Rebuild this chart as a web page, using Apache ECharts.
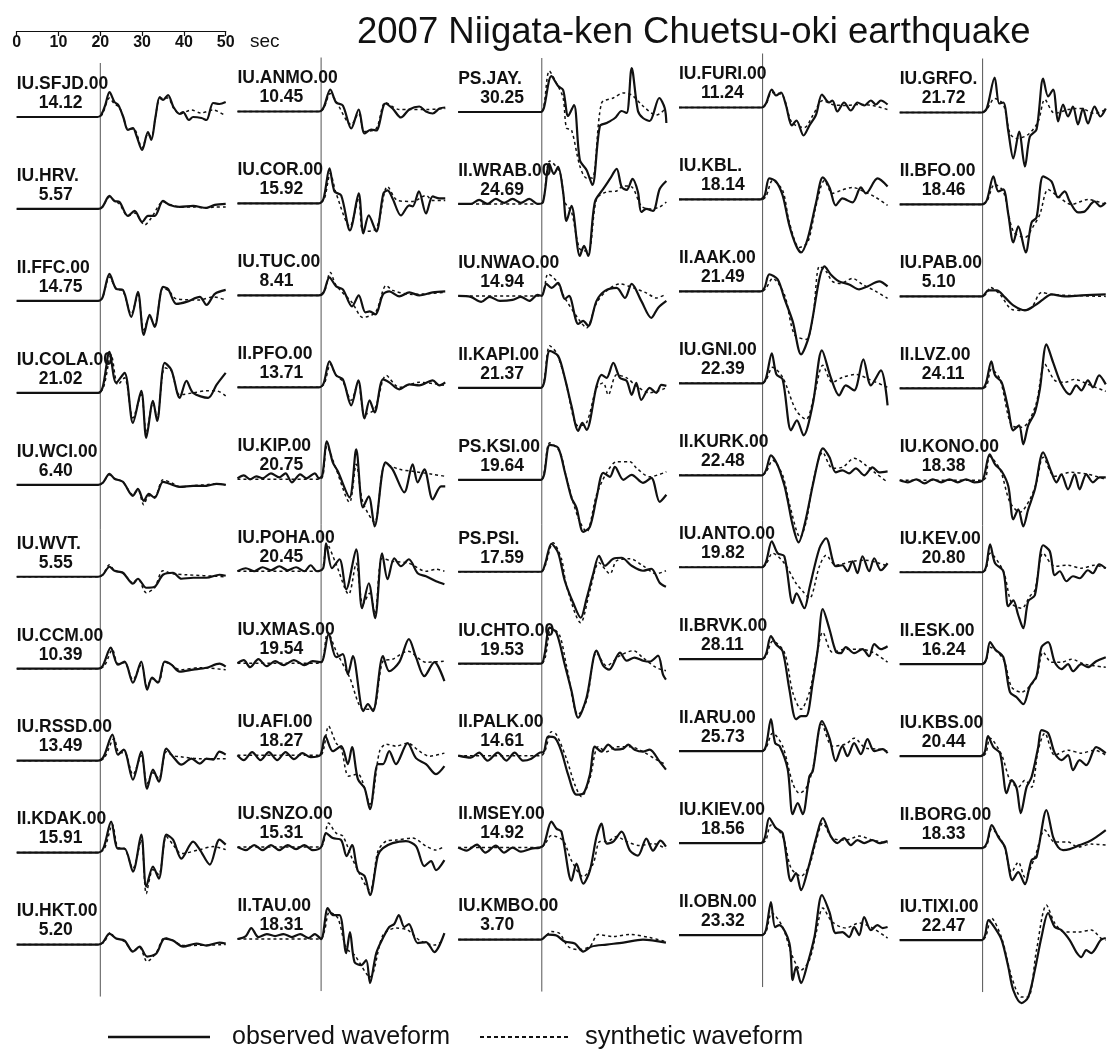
<!DOCTYPE html>
<html>
<head>
<meta charset="utf-8">
<script src="https://cdn.jsdelivr.net/npm/echarts@6/dist/echarts.min.js"></script>
<style>
  html, body { margin: 0; padding: 0; background: #fff; }
  #chart { width: 1107px; height: 1053px; }
</style>
</head>
<body>
<div id="chart"></div>
<script>
// Station codes, column by column (10 stations per column, top to bottom)
const stations = [
  'IU.SFJD.00', 'IU.HRV.', 'II.FFC.00', 'IU.COLA.00', 'IU.WCI.00', 'IU.WVT.', 'IU.CCM.00', 'IU.RSSD.00', 'II.KDAK.00', 'IU.HKT.00',
  'IU.ANMO.00', 'IU.COR.00', 'IU.TUC.00', 'II.PFO.00', 'IU.KIP.00', 'IU.POHA.00', 'IU.XMAS.00', 'IU.AFI.00', 'IU.SNZO.00', 'II.TAU.00',
  'PS.JAY.', 'II.WRAB.00', 'IU.NWAO.00', 'II.KAPI.00', 'PS.KSI.00', 'PS.PSI.', 'IU.CHTO.00', 'II.PALK.00', 'II.MSEY.00', 'IU.KMBO.00',
  'IU.FURI.00', 'IU.KBL.', 'II.AAK.00', 'IU.GNI.00', 'II.KURK.00', 'IU.ANTO.00', 'II.BRVK.00', 'II.ARU.00', 'IU.KIEV.00', 'II.OBN.00',
  'IU.GRFO.', 'II.BFO.00', 'IU.PAB.00', 'II.LVZ.00', 'IU.KONO.00', 'IU.KEV.00', 'II.ESK.00', 'IU.KBS.00', 'II.BORG.00', 'IU.TIXI.00'
];

// Peak amplitude printed under each station code
const amplitudes = [
  '14.12', '5.57', '14.75', '21.02', '6.40', '5.55', '10.39', '13.49', '15.91', '5.20',
  '10.45', '15.92', '8.41', '13.71', '20.75', '20.45', '19.54', '18.27', '15.31', '18.31',
  '30.25', '24.69', '14.94', '21.37', '19.64', '17.59', '19.53', '14.61', '14.92', '3.70',
  '11.24', '18.14', '21.49', '22.39', '22.48', '19.82', '28.11', '25.73', '18.56', '23.32',
  '21.72', '18.46', '5.10', '24.11', '18.38', '20.80', '16.24', '20.44', '18.33', '22.47'
];

// Observed traces: flat lists of (time [s], normalized amplitude) pairs
const observed = [
  [0,0, 19.3,0, 20.2,2, 21.2,12, 22.2,25, 23.4,15, 24.3,12, 25.5,0, 26.6,-13, 27.8,-11, 28.6,-18, 30,-33, 31.4,-15, 32.2,-23, 33.2,0, 34.2,20, 35,17, 36.2,22, 37.5,10, 39,3, 39.8,5, 41.2,-3, 42.2,0, 44.2,-1, 45.4,-3, 47,14, 48.5,13, 50,15],
  [0,0, 19.5,0, 20.5,2, 22.2,13, 23.4,8, 24.6,7, 26.6,-7, 28.2,-2, 30,-13, 31.4,-7, 33,-7, 35,8, 36.6,4, 39,2, 42.2,3, 45.4,1, 47.4,4, 50,5],
  [0,0, 19.5,0, 20.5,3, 22.2,27, 23.8,12, 25.4,11, 27.4,-16, 29,9, 30.4,-34, 31.8,-14, 33,-26, 35,14, 36.2,12, 38.2,-3, 40.6,-1, 43.8,4, 45.4,-4, 47.4,7, 50,11],
  [0,0, 19.5,0, 20.6,6, 22.2,41, 23.8,10, 25.8,20, 27.8,-30, 29.8,2, 31,-45, 32.6,-8, 33.6,-28, 35.4,30, 37,23, 39,-5, 40.6,12, 42.2,0, 45.8,-5, 47.8,8, 50,20],
  [0,0, 19.5,0, 20.6,2, 22.2,11, 23.4,6, 25.4,3, 27.8,-11, 29,-4, 30.4,-16, 31.6,-9, 33,-13, 35,3, 36.6,1, 39,-2, 42.2,-1, 45.4,-1, 47.8,1, 50,0],
  [0,0, 19.5,0, 20.6,2, 22.2,10, 23.4,6, 25.4,4, 27.8,-7, 29,-2, 31,-11, 33,-10, 35,2, 37.4,4, 39.4,-2, 42.2,-1, 45.4,-1, 48.5,2, 50,1],
  [0,0, 19.5,0, 20.6,3, 22.5,21, 24.2,4, 25.8,7, 27.8,-14, 29.8,7, 31.2,-21, 32.4,-9, 33.8,-14, 35.4,7, 37,4, 39,-3, 42.2,-1, 45.4,1, 48.5,5, 50,2],
  [0,0, 19.5,0, 20.8,4, 22.9,26, 24.2,6, 25.6,11, 27.8,-19, 29.8,9, 31.2,-28, 32.6,-9, 34,-21, 35.8,12, 37.4,4, 39.4,-4, 41.8,2, 43.8,-3, 45.4,2, 47,1, 48.5,9, 50,6],
  [0,0, 19.5,0, 20.8,5, 22.6,31, 24.2,4, 25.8,4, 27.8,-19, 29.8,18, 31,-34, 32.6,-14, 34,-26, 35.8,18, 37.4,13, 39.4,-6, 42.2,11, 43.8,3, 46.2,-12, 48.5,13, 50,8],
  [0,0, 19.5,0, 20.6,2, 22.2,11, 23.8,6, 25.8,4, 27.8,-7, 29.4,-2, 31.2,-12, 33.4,-9, 35.4,6, 37.4,4, 39.8,-2, 43,1, 45.4,-1, 48.5,2, 50,1],

  [0,0, 19.5,0, 20.6,4, 22.2,22, 23.6,9, 25.2,6, 27.2,-17, 29,2, 30.4,-22, 32,-18, 33.2,-19, 35.4,8, 37.1,3, 39.1,-6, 41.1,2, 43.5,5, 45.1,0, 46.7,-2, 48.3,3, 49.7,4],
  [0,0, 19.5,0, 20.6,5, 22,35, 23.2,12, 24.8,8, 26.9,-27, 29,10, 30.1,-30, 31.4,-12, 33.2,-28, 34.9,10, 35.9,13, 37.1,5, 39.1,-12, 41.1,-2, 41.9,-3, 43.4,12, 45.1,-10, 46.7,7, 48.3,5, 49.7,5],
  [0,0, 19.5,0, 20.6,3, 22,18, 23.6,9, 25.2,6, 27.4,-11, 29,0, 30.6,-17, 31.6,-16, 33,-19, 34.8,1, 36.3,4, 38.7,-1, 41.1,3, 43.5,0, 46.7,3, 49.7,4],
  [0,0, 19.5,0, 20.6,4, 22,26, 23.6,12, 25.2,8, 27.2,-18, 28.9,7, 30.4,-31, 31.6,-13, 32.8,-25, 34.8,8, 36.3,5, 38.7,-2, 41.1,3, 43.5,2, 46.7,7, 48.3,2, 49.7,5],
  [0,1, 1.5,4, 3,0, 4.5,3, 6,1, 8,6, 10,2, 11.5,6, 13,-3, 15,5, 16.5,1, 18.5,6, 19.5,1, 20.3,4, 21.4,38, 22.8,17, 24,8, 26.8,-18, 28.4,30, 30,-28, 31.4,-17, 32.8,-47, 35.4,17, 37.1,10, 39.9,-13, 41.9,15, 43.1,-3, 44.7,10, 46.7,-20, 48.7,-7, 49.7,-7],
  [0,0, 2,3, 4,0, 6,4, 8,1, 10,5, 12,1, 14,4, 16,0, 17.5,6, 19,0, 20.5,3, 21.2,28, 22.6,3, 24.4,12, 26,-18, 28.4,22, 29.8,-37, 31.4,-12, 32.9,-47, 34.6,18, 35.9,-8, 37.5,13, 39.1,5, 41,12, 43.1,-2, 45.1,-5, 47.5,-10, 49.5,-13],
  [0,0, 1.5,3, 3,-4, 5,4, 7,-3, 9,2, 11,-2, 13.5,3, 16,-2, 18,2, 20,1, 21.8,29, 23.6,6, 25.2,9, 26.4,-11, 27.6,7, 30.1,-48, 31.2,-41, 32.4,-48, 34.8,7, 36.3,-8, 38.7,1, 41,24, 42.7,6, 44.7,-13, 47.1,1, 49.5,-18],
  [0,0, 1.5,-5, 3.5,3, 5.5,-5, 7.5,3, 9.5,-5, 11.5,3, 13.5,-4, 15.5,2, 17.5,-2, 19.8,0, 21,19, 22.8,4, 24.8,9, 26.4,-9, 27.4,8, 28.8,-24, 30.4,-33, 31.7,-54, 33.6,-9, 34.8,-9, 36.3,4, 37.9,-9, 40.7,12, 42.7,-3, 45.1,-9, 47.5,-19, 49.5,-11],
  [0,0, 2,-3, 4,2, 6,-3, 8,2, 10,-3, 12,2, 14,-2, 16,2, 18,-3, 20,0, 21.2,14, 22.8,9, 24.8,7, 26.1,-9, 27.4,2, 28.8,-24, 30.4,-29, 31.7,-48, 33.6,-8, 34.8,-1, 37.1,4, 40.3,6, 42.7,1, 44.7,-19, 46.3,-14, 47.5,-23, 49.5,-13],
  [0,0, 2,3, 3.3,11, 5,2, 7,5, 9,3, 11,5, 13,2, 15,5, 17,1, 18.5,5, 20,0, 21.6,31, 22.8,24, 24.4,24, 26,-14, 26.9,7, 28,-23, 29.6,-26, 30.8,-21, 31.7,-44, 33.2,-14, 34.8,1, 36.3,12, 37.5,15, 38.6,24, 39.9,12, 41,15, 43.1,-4, 45.1,-3, 47.1,-13, 49.5,6],

  [0,0, 19.8,0, 20.5,4, 22.3,36, 23.9,26, 25.1,22, 26.3,-4, 27.7,7, 29.1,-48, 30.7,-58, 32.1,-73, 33.9,-14, 35.5,-11, 37.5,-6, 39.1,1, 40.3,-1, 41.5,44, 43,1, 44.2,-6, 45.8,-9, 48.1,14, 49.4,4, 49.8,-11],
  [0,0, 3,0, 5,4, 7,0, 9,5, 11,1, 13,5, 15,1, 17,5, 19,0, 20.3,2, 21.8,40, 22.9,30, 23.9,37, 25.1,12, 25.9,-17, 27.1,-2, 29.1,-52, 30.1,-42, 31.1,-52, 32.7,2, 34.7,15, 36.3,25, 37.9,35, 39.1,17, 40.3,14, 41.7,25, 43,12, 43.8,-8, 45,-5, 46.6,-7, 48.2,15, 49.8,23],
  [0,0, 3,-1, 5.5,-6, 7.5,-1, 10,-5, 13,-4, 15,-1, 17,-5, 19,1, 20,0, 21.1,12, 22.3,8, 23.9,13, 25.5,-3, 26.5,0, 28.7,-28, 29.9,-25, 31.1,-30, 33.1,-5, 35.1,5, 37.9,8, 39.9,-2, 41.5,12, 43.8,-5, 46.2,-22, 47.8,-12, 49.8,-5],
  [0,0, 19.8,0, 20.6,6, 21.9,37, 23.9,32, 25.5,10, 27.1,-18, 28.7,-43, 29.7,-35, 30.7,-42, 33.1,2, 34.3,13, 35.5,10, 37.1,25, 38.7,10, 40.3,7, 41.5,-7, 42.6,5, 43.8,-12, 45.8,0, 47.4,-5, 48.6,3, 49.8,2],
  [0,0, 19.8,0, 20.6,6, 21.9,35, 23.9,32, 25.5,8, 27.1,-18, 28.3,-28, 29.9,-52, 31.5,-47, 33.1,-18, 34.7,7, 36.3,3, 37.5,13, 39.5,0, 41.5,5, 44.2,-3, 46.2,2, 48.2,-22, 49.8,-15],
  [0,0, 19.8,0, 20.8,8, 22.3,28, 23.9,19, 25.5,-9, 27.5,-31, 29.3,-46, 30.7,-27, 32.3,-2, 33.7,16, 35.1,6, 37.1,13, 39.1,14, 41.5,6, 44.2,1, 46.2,3, 48.2,-11, 49.7,-15],
  [0,0, 19.8,0, 20.6,8, 21.9,36, 23.5,31, 25.5,-1, 27.1,-27, 28.7,-54, 30.7,-34, 33.1,13, 34.7,-2, 36.1,-6, 38.7,11, 40.3,3, 42.2,6, 44.2,3, 45.8,2, 47.8,8, 49,-11, 49.7,-16],
  [0,0, 3,-2, 5,3, 7,-5, 9.5,3, 11.5,-5, 13.5,3, 15.5,-5, 17.5,-3, 19.5,3, 20.5,4, 21.5,19, 23.1,18, 24.7,4, 26.3,-19, 28.3,-39, 29.9,-38, 31.5,-19, 32.7,9, 34.3,4, 35.9,11, 37.5,6, 39.5,7, 40.7,11, 42.2,6, 44.2,4, 45.8,6, 48.2,-6, 49.7,-14],
  [0,0, 2,-3, 4.5,3, 6.5,-5, 9,2, 11,-5, 13,0, 15,-4, 17.5,-1, 19.5,0, 20.5,3, 22.3,26, 23.5,19, 24.7,16, 27.1,-33, 28.3,-16, 29.9,-36, 31.5,-23, 33.1,11, 34.3,24, 35.5,4, 37.1,6, 39.1,16, 41.1,-3, 43,-8, 45,9, 46.6,-3, 48.4,7, 49.7,1],
  [0,0, 19.8,0, 21.5,5, 23.5,4, 25.5,-2, 27.9,-4, 29.9,-12, 31.9,-7, 35.5,-5, 39.5,-3, 44.2,0, 49.7,-3],

  [0,0, 19.8,0, 20.8,4, 22.2,18, 23.2,12, 24.4,15, 25.6,2, 27,-18, 28.1,-13, 29.8,-28, 31.2,-18, 32.8,-7, 34.2,13, 35.9,5, 36.7,7, 37.9,-4, 39.5,5, 41.1,-3, 42.7,5, 44.3,2, 45.9,7, 47.1,3, 48.3,7, 49.9,3],
  [0,0, 19.5,0, 20.5,4, 21.6,21, 23.2,18, 24.8,4, 26.4,-26, 28,-46, 29.2,-53, 30.8,-39, 32.8,-3, 34.4,22, 36,12, 37.5,-6, 39.1,1, 41.5,-3, 43.5,12, 44.7,6, 47.5,21, 49.9,13],
  [0,0, 19.5,0, 20.5,4, 21.6,17, 23.6,12, 25.2,-7, 27.2,-30, 29.2,-63, 31.2,-43, 33.6,13, 34.8,25, 36.3,17, 38.3,10, 40.7,7, 43.1,2, 45.1,5, 47.9,10, 49.9,5],
  [0,0, 19.8,0, 20.8,5, 22.2,30, 23.3,9, 24.8,4, 26.8,-47, 28.2,-37, 29.8,-52, 32,-21, 34.2,33, 36.3,6, 38.3,-12, 39.9,-2, 41.9,-7, 44.1,24, 45.9,-2, 48.3,13, 49.9,-22],
  [0,0, 19.8,0, 20.8,5, 22,20, 23.6,10, 25.2,-10, 26,-25, 27.2,-50, 28.6,-67, 30,-50, 32,-10, 33.6,20, 34.4,27, 36,18, 37.5,3, 39.1,5, 40.7,2, 42.3,7, 44.3,0, 46.3,8, 47.9,3, 49.9,4],
  [0,0, 19.8,0, 20.8,5, 22.2,26, 23.6,14, 25.2,11, 27.2,-36, 28.1,-26, 30,-41, 31.2,-21, 33.6,19, 35.2,29, 37.5,1, 39.1,2, 40.3,-4, 41.5,6, 42.7,-6, 43.9,11, 45.5,-4, 46.7,9, 48.3,-3, 49.9,4],
  [0,0, 19.8,0, 20.8,5, 22,23, 23.2,15, 24.8,8, 26.4,-30, 28,-60, 29.2,-57, 30.4,-57, 32,-23, 33.2,10, 34.4,50, 36,30, 37.5,8, 38.7,6, 39.9,12, 41.9,6, 43.9,10, 45.5,3, 46.7,15, 48.3,10, 49.9,13],
  [0,0, 19.8,0, 20.8,5, 22,32, 23,8, 24.1,5, 26,-18, 27.2,-63, 28.4,-52, 29.6,-63, 31.2,-25, 32,-20, 34.2,30, 36,13, 37.5,-10, 39.1,5, 40.3,-5, 41.9,8, 43.5,-3, 45.1,12, 46.7,0, 48.7,2, 49.9,-2],
  [0,0, 19.5,0, 20.5,5, 21.6,25, 23.2,15, 24.8,10, 26.8,-38, 28,-30, 29.2,-47, 30.8,-27, 32.8,5, 34.4,25, 36.3,7, 37.9,0, 39.5,5, 41.1,-2, 42.7,3, 44.3,0, 46.3,3, 47.9,0, 49.9,2],
  [0,0, 19.8,0, 20.8,5, 22,33, 23,8, 24,10, 26.4,-8, 27.2,-45, 28,-32, 29.2,-48, 30.8,-28, 32.4,-2, 34.2,40, 36,23, 37.5,2, 39.1,3, 40.7,-2, 41.9,8, 43.1,0, 44.3,18, 45.9,5, 47.5,10, 48.7,7, 49.9,8],

  [0,0, 19.8,0, 21,4, 22.9,35, 24,9, 25,10, 26.2,-19, 27.4,-46, 28.8,-19, 30.2,-54, 31.4,-24, 33,-17, 34.6,34, 35.8,16, 37,23, 38.2,-9, 39.4,8, 40.6,-4, 41.8,6, 43,-12, 44.2,4, 45.4,-11, 47,6, 48.4,-4, 49.7,4],
  [0,0, 19.8,0, 21,4, 22.6,28, 23.8,13, 25,15, 26.2,-10, 27.4,-38, 28.6,-22, 30.4,-48, 31.8,-18, 33,-13, 34.6,28, 36.6,23, 38.2,7, 39.8,13, 41,3, 43,-8, 44.6,-7, 47,3, 48.4,-2, 49.7,2],
  [0,0, 19.8,0, 21.4,6, 23.4,6, 25.4,-1, 27.4,-9, 30.2,-14, 32.6,-9, 34.6,-3, 36.6,2, 39.8,0, 43.8,1, 49.7,2],
  [0,0, 19.8,0, 20.8,5, 22.1,27, 23,13, 24.6,6, 26.2,-21, 27.4,-42, 28.8,-37, 29.8,-56, 31,-37, 32.6,-24, 33.8,-1, 35.4,44, 37,26, 39,4, 41,-6, 42.6,3, 43.8,-2, 45.4,8, 46.6,1, 48.1,13, 49.7,4],
  [0,0, 2,-2, 4,1, 6,-3, 8,1, 10,-2, 12,1, 14,-2, 16,1, 18,-2, 20,0, 21.7,26, 23,16, 24.6,9, 26.2,-6, 27.4,-39, 28.6,-29, 29.8,-46, 31,-29, 32.6,-9, 34.6,28, 36.6,8, 37.8,-2, 39,6, 40.6,-9, 42.2,6, 43.4,-9, 45,6, 46.6,-2, 48.2,3, 49.7,3],
  [0,0, 19.8,0, 20.8,5, 21.8,28, 23,9, 25,1, 26.2,-34, 27.4,-28, 28.6,-43, 29.8,-56, 31,-29, 32.6,-23, 34.6,27, 36.2,21, 37.4,-3, 38.6,1, 40.2,-9, 41.8,-4, 43.4,-6, 45.4,2, 46.6,-1, 48.1,8, 49.7,4],
  [0,0, 19.8,0, 20.8,4, 21.8,22, 23,15, 25,7, 26.6,-28, 28.2,-33, 29.8,-40, 31.4,-22, 33,-12, 34.2,17, 35.8,22, 37.4,2, 39,-5, 40.6,0, 41.8,-7, 43.8,0, 45.4,-3, 47.4,3, 49.7,7],
  [0,0, 19.5,0, 20.5,4, 21.3,20, 22.6,9, 24.2,3, 25.8,-37, 27,-24, 28.2,-32, 29.2,-57, 30.6,-31, 31.8,-21, 33.4,9, 34.2,26, 35.8,23, 37.4,3, 39,-4, 40.6,1, 41.8,-14, 43.4,-4, 45,-9, 47.4,9, 49.7,3],
  [0,0, 19.8,0, 21,5, 22.2,23, 23.8,11, 25.4,1, 27.2,-32, 28.6,-24, 30.2,-36, 31.8,-12, 33,-9, 35.4,38, 37,11, 38.2,1, 39.4,-2, 41,-1, 43.4,3, 45.4,6, 47.4,11, 49.7,18],
  [0,0, 19.8,0, 20.6,5, 21.4,20, 23,12, 24.6,0, 26.2,-27, 27.4,-50, 29.4,-63, 31,-57, 32.6,-30, 34.2,3, 35.8,27, 37.4,13, 39,10, 41,0, 42.6,-12, 43.8,-17, 45,-10, 46.2,-13, 48.5,0, 49.7,2]
];

// Synthetic traces, same station order and units
const synthetic = [
  [0,0, 19.5,0, 20.5,3, 22.2,19, 23.4,13, 24.5,10, 25.5,0, 26.6,-12, 28,-12, 30,-31, 31.4,-17, 32.2,-20, 33.2,0, 34.2,18, 36.2,19, 37.5,9, 39,3, 41.8,7, 44,4, 47,7, 50,1],
  [0,0, 19.5,0, 20.5,2, 22.2,12, 23.4,8, 24.6,5, 26.6,-7, 28.2,-4, 30.6,-16, 32.2,-9, 35,7, 37,4, 39,2, 42.2,2, 45.4,1, 47.4,2, 50,2],
  [0,0, 19.5,0, 20.5,3, 22.2,24, 23.8,12, 25.4,10, 27.4,-13, 29,6, 30.4,-29, 31.8,-16, 33,-24, 35,13, 36.4,10, 38.2,2, 43.8,1, 47,4, 50,1],
  [0,0, 19.5,0, 20.8,6, 22.6,38, 24.2,8, 25.8,15, 27.8,-25, 29.8,-2, 31,-40, 32.6,-10, 33.6,-25, 35.4,25, 37,22, 39,-2, 42.2,0, 45.4,2, 47.8,2, 50,-3],
  [0,0, 19.5,0, 20.6,2, 22.2,10, 23.4,6, 25.4,3, 27.8,-10, 29,-5, 30.4,-20, 31.6,-11, 33,-12, 35,5, 37,2, 39,-2, 42,-1, 45,0, 48,1, 50,0],
  [0,0, 19.5,0, 20.6,2, 22.2,12, 23.4,6, 25.4,4, 27.8,-6, 29,-2, 31,-16, 33,-11, 35,6, 37.4,3, 40.6,2, 50,0],
  [0,0, 19.5,0, 21,3, 22.9,19, 24.2,5, 25.8,6, 27.8,-11, 29.8,4, 31.2,-18, 32.4,-10, 34,-13, 35.4,7, 37,4, 39,-1, 43.8,1, 50,-1],
  [0,0, 19.5,0, 21,3, 23.3,22, 24.5,8, 25.8,8, 27.8,-14, 29.8,5, 31.2,-23, 32.6,-12, 34,-18, 35.8,9, 37.4,5, 39,4, 43.8,2, 50,2],
  [0,0, 19.5,0, 21,4, 22.9,28, 24.2,5, 25.8,4, 27.8,-16, 29.8,13, 31,-41, 32.6,-17, 34,-22, 35.8,16, 37.4,8, 39.4,-1, 43.8,3, 47,6, 50,3],
  [0,0, 19.5,0, 20.8,2, 22.5,12, 23.4,7, 25.8,3, 27.8,-7, 29.4,-3, 31.2,-17, 33.4,-8, 35.4,7, 37.4,4, 40,-1, 50,0],

  [0,0, 19.5,0, 20.6,3, 22.2,18, 23.6,10, 27.2,-13, 29,-2, 30.4,-20, 33.2,-17, 35.4,9, 38.7,2, 41.1,2, 45.1,2, 49.7,3],
  [0,0, 19.5,0, 20.8,5, 22.2,30, 23.6,10, 26.9,-23, 29,5, 30.1,-28, 33.2,-25, 35.9,17, 38.3,3, 41.9,2, 45.1,8, 46.7,3, 49.7,3],
  [0,0, 19.5,0, 20.8,4, 22.2,23, 23.6,10, 27.4,-7, 30,-22, 33,-17, 35.6,10, 37.1,5, 41.9,1, 49.7,3],
  [0,0, 19.5,0, 20.8,4, 22.2,23, 23.6,12, 25.2,6, 27.2,-13, 28.9,5, 30.4,-27, 32.8,-22, 35.6,12, 38.7,0, 43.5,5, 49.7,2],
  [0,0, 19.8,0, 20.5,5, 21.4,33, 23.6,10, 26.8,-23, 28.4,15, 30,-23, 32.8,-43, 35.4,15, 38.7,10, 41.9,8, 46.7,5, 49.7,3],
  [0,0, 19.8,0, 20.5,5, 21.4,27, 23.6,7, 26.6,-23, 28.4,8, 30,-33, 31.6,-22, 32.9,-43, 34.6,13, 37.1,10, 41,8, 45.1,0, 47.5,2, 49.5,0],
  [0,0, 19.8,0, 20.5,5, 21.6,31, 23.6,12, 26.8,-14, 30.1,-46, 32.4,-46, 34.8,2, 37.1,4, 40.7,12, 45.1,1, 49.5,2],
  [0,0, 19.8,0, 20.6,6, 21.8,29, 23.6,12, 24.8,7, 26.6,-21, 28.8,-19, 31.7,-49, 34,4, 35.6,11, 37.9,9, 40.7,12, 43.5,4, 45.9,-1, 49.5,2],
  [0,0, 19.8,0, 20.6,5, 21.8,24, 23.6,14, 25.2,11, 27.6,-13, 31.7,-43, 33.6,-4, 35.6,6, 37.9,7, 41.9,9, 45.1,1, 47.5,-3, 49.5,1],
  [0,0, 19.8,0, 20.8,8, 22,27, 24,21, 26,-9, 28,-16, 31.7,-38, 34.8,4, 37.9,11, 40.7,9, 43.5,-1, 47.1,-6, 49.5,-1],

  [0,0, 19.8,0, 20.5,6, 21.8,41, 23.5,29, 25.1,14, 25.9,-16, 27.1,-18, 29.1,-54, 30.7,-66, 32.1,-66, 34.3,9, 37.1,14, 39.5,19, 41.5,17, 44.2,6, 47.4,-3, 49.8,4],
  [0,0, 19.8,0, 20.5,6, 21.9,43, 24.3,32, 25.5,2, 27.1,-8, 29.1,-45, 31.1,-47, 33.1,5, 35.5,12, 37.9,13, 39.5,18, 41.5,17, 43.8,-2, 45.8,-5, 48.2,-3, 49.8,2],
  [0,0, 19.8,0, 20.5,5, 21.5,22, 23.5,15, 25.5,-2, 29.1,-25, 30.7,-32, 33.1,-7, 35.5,5, 38.7,12, 41.9,8, 45,3, 47.4,-2, 49.8,2],
  [0,0, 19.8,0, 20.5,6, 21.9,42, 23.5,35, 25.5,10, 28.7,-38, 30.7,-35, 33.1,0, 34.7,5, 35.9,-7, 37.9,13, 40.3,10, 42.6,2, 45.8,-5, 49.8,0],
  [0,0, 19.8,0, 20.5,6, 21.9,37, 24.3,28, 25.9,2, 28.7,-38, 30.7,-52, 33.1,-15, 35.5,7, 37.9,18, 41.1,18, 42.6,12, 45.8,3, 49.8,8],
  [0,0, 19.8,0, 20.8,6, 22.7,29, 24.7,13, 25.9,-14, 29.3,-51, 31.5,-19, 33.7,9, 36.3,-2, 37.9,11, 41.1,13, 44.2,6, 47.4,-2, 49.7,1],
  [0,0, 19.8,0, 20.8,6, 22.3,36, 24.3,28, 25.9,-2, 28.7,-51, 30.7,-37, 33.1,11, 35.5,-2, 38.7,8, 41.9,13, 44.2,6, 47.4,-4, 49.7,-7],
  [0,0, 19.8,0, 20.8,5, 22.3,24, 23.5,21, 25.9,-3, 27.9,-29, 29.5,-41, 31.5,-23, 33.5,9, 35.5,4, 37.9,9, 41.1,9, 44.2,4, 47.4,-4, 49.7,-9],
  [0,0, 19.8,0, 20.8,4, 22.3,12, 25.1,7, 27.1,-13, 29.9,-29, 32.3,-16, 33.9,6, 35.5,6, 37.9,11, 40.3,6, 43.4,2, 46.6,4, 49.7,-1],
  [0,0, 19.8,0, 20.8,3, 22.3,8, 24.3,6, 26.3,-7, 28.7,-10, 31.5,-7, 33.5,5, 37.1,3, 41.1,5, 45.8,2, 49.7,-2],

  [0,0, 19.8,0, 20.8,3, 22.2,15, 24.8,12, 27,-15, 30,-20, 32,-8, 34.4,7, 36.7,3, 39.9,2, 43.1,3, 46.3,2, 49.9,-2],
  [0,0, 19.8,0, 20.8,3, 22.4,19, 24.8,9, 26.4,-23, 28.8,-48, 30.8,-43, 32.8,-6, 34.8,19, 36.7,6, 38.7,9, 41.5,12, 44.7,7, 47.1,2, 49.9,-6],
  [0,0, 19.8,0, 20.8,3, 22.4,13, 25.2,-3, 27.6,-43, 30.4,-48, 32,-27, 33.6,25, 35.2,20, 36.7,10, 38.7,8, 41.5,13, 43.9,7, 47.1,0, 49.9,-7],
  [0,0, 19.8,0, 20.8,3, 22.4,16, 24.8,6, 28,-27, 30.4,-36, 32.4,-11, 34.4,18, 36.7,1, 39.1,6, 42.3,9, 45.5,4, 49.9,-4],
  [0,0, 19.8,0, 20.8,3, 22.4,15, 24.8,0, 26.5,-30, 29,-62, 30.5,-45, 32,-8, 34.4,23, 36.7,7, 39.1,8, 41.9,17, 44.7,10, 47.1,2, 49.9,-7],
  [0,0, 19.8,0, 20.8,3, 22.4,14, 25.2,4, 28,-16, 29.6,-24, 31.2,-31, 33.6,1, 35.2,12, 37.5,2, 41.5,6, 44.7,7, 47.9,4, 49.9,1],
  [0,0, 19.8,0, 20.8,3, 22.4,18, 25.2,7, 27.2,-33, 29.2,-50, 31.2,-33, 32.8,0, 34.4,27, 36.7,7, 39.9,10, 43.1,10, 46.3,7, 49.9,-3],
  [0,0, 19.8,0, 20.8,3, 22.4,18, 24.8,5, 27.2,-32, 28.8,-42, 30.4,-37, 32,-18, 34.2,27, 36.7,5, 39.9,7, 41.9,13, 44.7,3, 47.9,2, 49.9,0],
  [0,0, 19.8,0, 20.8,3, 22,18, 24.8,7, 26.8,-25, 29.2,-33, 31.2,-22, 32.8,2, 34.4,20, 36.7,5, 39.9,3, 43.1,7, 46.3,3, 49.9,0],
  [0,0, 19.8,0, 20.8,3, 22.2,22, 24.8,8, 27.2,-22, 29.2,-35, 31.2,-25, 32.8,2, 34.4,27, 36.7,13, 39.9,7, 43.1,12, 46.3,7, 49.9,-3],

  [0,0, 19.8,0, 21,3, 22.9,14, 25,8, 26.6,-21, 28.2,-26, 31,-22, 33.4,-9, 35,13, 37.4,-1, 40.6,3, 43.8,4, 47,-1, 49.7,3],
  [0,0, 19.8,0, 21,3, 22.9,20, 25,13, 27.4,-27, 30.2,-33, 32.2,-22, 33.8,-10, 35.8,15, 38.2,8, 41.4,0, 45.4,5, 49.7,0],
  [0,0, 19.8,0, 21,3, 21.8,9, 24.2,2, 27,-13, 29.4,-14, 31.8,-11, 34.2,4, 36.6,2, 40.6,1, 49.7,0],
  [0,0, 19.8,0, 21,3, 22.1,19, 24.2,9, 27,-37, 29.4,-39, 31,-34, 33,-14, 35,24, 37.4,8, 39.8,6, 42.2,9, 45.4,4, 49.7,-3],
  [0,0, 19.8,0, 20.8,3, 21.7,24, 24.2,11, 26.6,-22, 29,-32, 31.4,-19, 33,-2, 34.6,23, 37.4,4, 41.4,8, 45.4,6, 49.7,1],
  [0,0, 19.8,0, 20.8,3, 21.8,19, 25,1, 27,-31, 29.4,-36, 31.4,-24, 32.6,-18, 34.6,19, 37.4,6, 40.6,7, 43.8,4, 47,7, 49.7,4],
  [0,0, 19.8,0, 20.8,3, 21.8,17, 25,5, 27,-23, 29.4,-28, 31.4,-22, 33,-13, 34.6,12, 36.6,2, 39,2, 41.4,5, 44.6,0, 49.7,-3],
  [0,0, 19.8,0, 20.8,3, 21.8,18, 24.6,1, 26.6,-24, 28.6,-31, 30.2,-24, 31.8,-31, 33.4,6, 35,23, 37.4,1, 40.6,6, 43.8,3, 47,6, 49.7,1],
  [0,0, 19.8,0, 21,3, 22.2,19, 25,4, 27,-24, 28.6,-14, 30.2,-29, 32.6,-9, 35,18, 37.4,6, 40.6,6, 43,1, 46.2,4, 49.7,3],
  [0,0, 19.8,0, 20.8,4, 22.1,22, 24.6,2, 27,-37, 29.4,-57, 31,-57, 33,-10, 35.4,35, 37.4,17, 39.8,8, 43,8, 46.2,10, 48.5,2, 49.7,0]
];

// Time scale bar (seconds)
const scaleTicks = [0, 10, 20, 30, 40, 50];
const onsetTime = 20;

const titleText = '2007 Niigata-ken Chuetsu-oki earthquake';
const legendNames = ['observed waveform', 'synthetic waveform'];

// ---- layout ----
const COLS = 5, ROWS = 10;
const COL_LEFT = [16.7, 237.5, 458.2, 679, 899.7];
const TOP_BASE = [117, 111.5, 112, 107.5, 112.5];
const ROW_STEP = 91.95;
const PLOT_W = 209;
const H = 1053;
const FONT = '"Liberation Sans", Arial, Helvetica, sans-serif';
const INK = '#111';

function toPairs(flat, shift) {
  const out = [];
  for (let i = 0; i < flat.length; i += 2) out.push([flat[i], flat[i + 1] - shift]);
  return out;
}

const grid = [], xAxis = [], yAxis = [], series = [], graphic = [];

for (let c = 0; c < COLS; c++) {
  grid.push({ left: COL_LEFT[c], top: 0, width: PLOT_W, height: H });
  xAxis.push({ gridIndex: c, type: 'value', min: scaleTicks[0], max: scaleTicks[scaleTicks.length - 1], show: false });
  yAxis.push({ gridIndex: c, type: 'value', min: TOP_BASE[c] - H, max: TOP_BASE[c], show: false });
  // origin-time marker through the whole column
  series.push({
    type: 'line', xAxisIndex: c, yAxisIndex: c, silent: true, symbol: 'none', z: 1,
    data: [[onsetTime, 54], [onsetTime, -(ROWS - 1) * ROW_STEP - 52]],
    lineStyle: { color: '#555', width: 1 }
  });
}

stations.forEach((name, k) => {
  const c = Math.floor(k / ROWS), r = k % ROWS, shift = r * ROW_STEP;
  series.push({
    name: legendNames[1], type: 'line', xAxisIndex: c, yAxisIndex: c, symbol: 'none',
    smooth: 0.3, silent: true, z: 2, data: toPairs(synthetic[k], shift),
    lineStyle: { color: INK, width: 1.5, type: [3, 3] }
  });
  series.push({
    name: legendNames[0], type: 'line', xAxisIndex: c, yAxisIndex: c, symbol: 'none',
    smooth: 0.3, silent: true, z: 3, data: toPairs(observed[k], shift),
    lineStyle: { color: INK, width: 2.2 }
  });
  const yBase = TOP_BASE[c] + shift;
  graphic.push({
    type: 'text', x: COL_LEFT[c], y: yBase - 33, z: 10,
    style: { text: name, fill: INK, font: 'bold 17.5px ' + FONT, verticalAlign: 'middle', align: 'left' }
  });
  graphic.push({
    type: 'text', x: COL_LEFT[c] + 22, y: yBase - 14, z: 10,
    style: { text: amplitudes[k], fill: INK, font: 'bold 17.5px ' + FONT, verticalAlign: 'middle', align: 'left' }
  });
});

// time scale bar
grid.push({ left: COL_LEFT[0], top: 11, width: PLOT_W, height: 20 });
xAxis.push({
  gridIndex: COLS, type: 'value', position: 'bottom',
  min: scaleTicks[0], max: scaleTicks[scaleTicks.length - 1], interval: scaleTicks[1] - scaleTicks[0],
  axisLine: { show: true, lineStyle: { color: INK, width: 1.2 } },
  axisTick: { show: true, inside: false, length: 5, lineStyle: { color: INK, width: 1.2 } },
  axisLabel: { show: true, margin: 4, color: INK, fontFamily: FONT, fontWeight: 'bold', fontSize: 16 },
  splitLine: { show: false }
});
yAxis.push({ gridIndex: COLS, type: 'value', show: false, min: 0, max: 1 });
graphic.push({
  type: 'text', x: 250, y: 42,
  style: { text: 'sec', fill: INK, font: '19px ' + FONT, verticalAlign: 'middle', align: 'left' }
});

// legend row
const LEG_Y = 1037;
graphic.push({ type: 'line', shape: { x1: 108, y1: LEG_Y, x2: 210, y2: LEG_Y }, style: { stroke: INK, lineWidth: 2.5 } });
graphic.push({ type: 'text', x: 232, y: LEG_Y, style: { text: legendNames[0], fill: INK, font: '25px ' + FONT, verticalAlign: 'middle', align: 'left' } });
graphic.push({ type: 'line', shape: { x1: 480, y1: LEG_Y, x2: 570, y2: LEG_Y }, style: { stroke: INK, lineWidth: 1.8, lineDash: [4, 3] } });
graphic.push({ type: 'text', x: 585, y: LEG_Y, style: { text: legendNames[1], fill: INK, font: '25.5px ' + FONT, verticalAlign: 'middle', align: 'left' } });

const chart = echarts.init(document.getElementById('chart'), null, { renderer: 'canvas' });
chart.setOption({
  animation: false,
  backgroundColor: '#fff',
  title: {
    text: titleText, left: 352, top: 9,
    textStyle: { fontFamily: FONT, fontSize: 36.5, fontWeight: 'normal', color: INK }
  },
  grid, xAxis, yAxis, series, graphic
});
</script>
</body>
</html>
